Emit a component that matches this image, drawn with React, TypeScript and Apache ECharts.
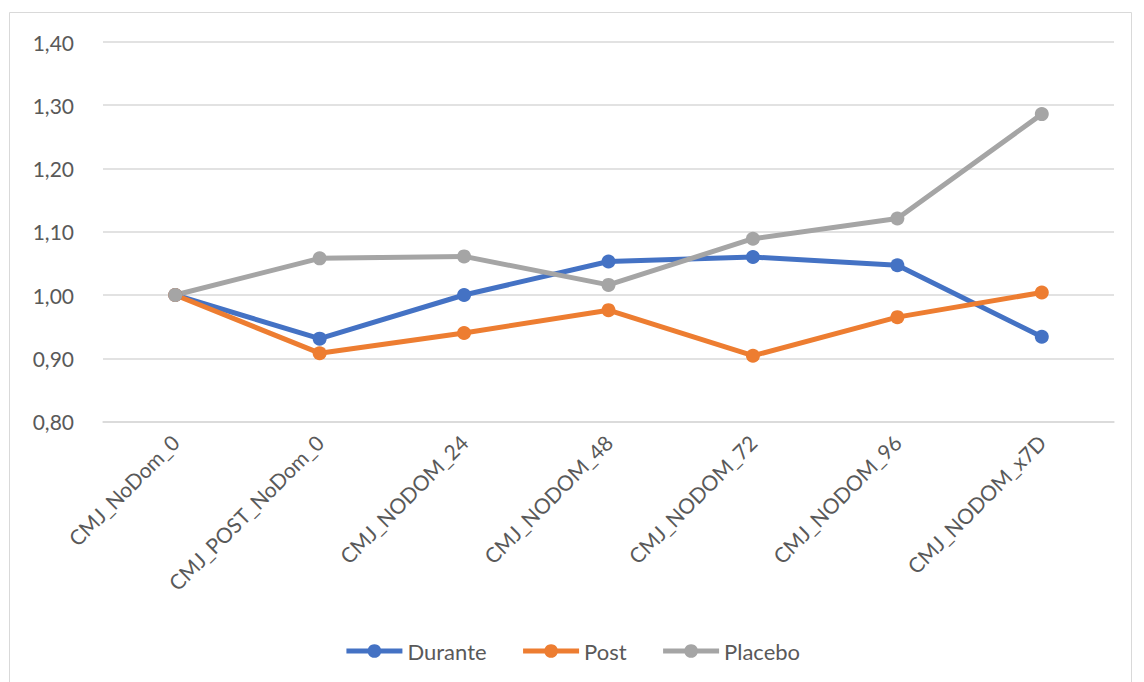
import React, { useEffect, useRef } from "react";
import * as echarts from "echarts";

const categories = [
  "CMJ_NoDom_0",
  "CMJ_POST_NoDom_0",
  "CMJ_NODOM_24",
  "CMJ_NODOM_48",
  "CMJ_NODOM_72",
  "CMJ_NODOM_96",
  "CMJ_NODOM_x7D",
];
const durante = [1.0, 0.931, 1.0, 1.053, 1.06, 1.047, 0.934];
const post = [1.0, 0.908, 0.94, 0.976, 0.904, 0.965, 1.004];
const placebo = [1.0, 1.058, 1.061, 1.016, 1.089, 1.121, 1.286];

const FONT = "Lato, 'Open Sans', sans-serif";
const TEXT = "#595959";

function lineSeries(name: string, data: number[], color: string) {
  return {
    name,
    type: "line",
    data,
    symbol: "circle",
    symbolSize: 14,
    itemStyle: { color },
    lineStyle: { color, width: 5 },
    z: 3,
  };
}

export default function App() {
  const ref = useRef<HTMLDivElement>(null);

  useEffect(() => {
    if (!ref.current) return;
    const chart = echarts.init(ref.current, null, { renderer: "svg" });
    chart.setOption({
      animation: false,
      backgroundColor: "#ffffff",
      textStyle: { fontFamily: FONT },
      graphic: [
        {
          type: "rect",
          shape: { x: 9.5, y: 12.5, width: 1122, height: 700 },
          style: { fill: "none", stroke: "#d9d9d9", lineWidth: 1 },
          silent: true,
        },
      ],
      grid: { left: 103, right: 30, top: 42, bottom: 260.5 },
      xAxis: {
        type: "category",
        data: categories,
        boundaryGap: true,
        axisLine: { lineStyle: { color: "#d9d9d9", width: 1.5 } },
        axisTick: { show: false },
        axisLabel: {
          rotate: 45,
          margin: 17,
          color: TEXT,
          fontSize: 21,
          fontFamily: FONT,
          interval: 0,
        },
      },
      yAxis: {
        type: "value",
        min: 0.8,
        max: 1.4,
        interval: 0.1,
        axisLine: { show: false },
        axisTick: { show: false },
        splitLine: { lineStyle: { color: "#d9d9d9", width: 1.5 } },
        axisLabel: {
          margin: 29,
          color: TEXT,
          fontSize: 21,
          fontFamily: FONT,
          formatter: (v: number) => v.toFixed(2).replace(".", ","),
        },
      },
      legend: {
        data: ["Durante", "Post", "Placebo"],
        top: 635,
        left: "center",
        itemWidth: 56,
        itemHeight: 17,
        itemGap: 34,
        lineStyle: { width: 5 },
        textStyle: { color: TEXT, fontSize: 22, fontFamily: FONT },
      },
      series: [
        lineSeries("Durante", durante, "#4472C4"),
        lineSeries("Post", post, "#ED7D31"),
        lineSeries("Placebo", placebo, "#A5A5A5"),
      ],
    });
    return () => chart.dispose();
  }, []);

  return (
    <div
      ref={ref}
      style={{ position: "fixed", left: 0, top: 0, width: 1144, height: 682 }}
    />
  );
}
